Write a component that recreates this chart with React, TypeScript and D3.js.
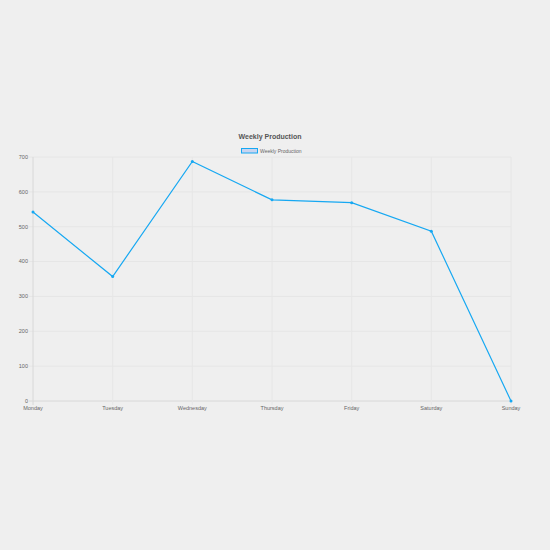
import React, { useEffect, useRef } from 'react'
import * as d3 from 'd3'

const days = ['Monday', 'Tuesday', 'Wednesday', 'Thursday', 'Friday', 'Saturday', 'Sunday']
const production = [542, 357, 687, 577, 569, 487, 0]
const yTicks = [0, 100, 200, 300, 400, 500, 600, 700]
const seriesName = 'Weekly Production'

const W = 550
const H = 550
const LINE = '#16a8f2'

const App = () => {
  const ref = useRef<SVGSVGElement>(null)

  useEffect(() => {
    const svg = d3.select(ref.current)
    svg.selectAll('*').remove()

    svg.append('rect').attr('width', W).attr('height', H).attr('fill', '#efefef')

    const x = d3.scalePoint<string>().domain(days).range([33, 511])
    const y = d3.scaleLinear().domain([0, 700]).range([401, 157])
    const font = 'Helvetica Neue, Helvetica, Arial, sans-serif'

    // grid
    const g = svg.append('g')
    g.selectAll('line.h')
      .data(yTicks)
      .join('line')
      .attr('x1', 29)
      .attr('x2', 511)
      .attr('y1', (d) => y(d))
      .attr('y2', (d) => y(d))
      .attr('stroke', (d) => (d === 0 ? '#d8d8d8' : '#e6e6e6'))
      .attr('stroke-width', 1)
    g.selectAll('line.v')
      .data(days)
      .join('line')
      .attr('x1', (d) => x(d)!)
      .attr('x2', (d) => x(d)!)
      .attr('y1', 157)
      .attr('y2', 405)
      .attr('stroke', (d, i) => (i === 0 ? '#d8d8d8' : '#e6e6e6'))
      .attr('stroke-width', 1)

    // y labels
    svg.append('g')
      .selectAll('text')
      .data(yTicks)
      .join('text')
      .attr('x', 28)
      .attr('y', (d) => y(d))
      .attr('dy', '0.35em')
      .attr('text-anchor', 'end')
      .attr('font-family', font)
      .attr('font-size', 5.5)
      .attr('fill', '#666')
      .text((d) => d)

    // x labels
    svg.append('g')
      .selectAll('text')
      .data(days)
      .join('text')
      .attr('x', (d) => x(d)!)
      .attr('y', 410)
      .attr('text-anchor', 'middle')
      .attr('font-family', font)
      .attr('font-size', 5.5)
      .attr('fill', '#666')
      .text((d) => d)

    // line
    const line = d3
      .line<number>()
      .x((d, i) => x(days[i])!)
      .y((d) => y(d))
    svg.append('path')
      .datum(production)
      .attr('d', line)
      .attr('fill', 'none')
      .attr('stroke', LINE)
      .attr('stroke-width', 1.2)

    svg.append('g')
      .selectAll('circle')
      .data(production)
      .join('circle')
      .attr('cx', (d, i) => x(days[i])!)
      .attr('cy', (d) => y(d))
      .attr('r', 1.5)
      .attr('fill', LINE)

    // title
    svg.append('text')
      .attr('x', 270)
      .attr('y', 139)
      .attr('text-anchor', 'middle')
      .attr('font-family', font)
      .attr('font-size', 7)
      .attr('font-weight', 'bold')
      .attr('fill', '#555')
      .text(seriesName)

    // legend
    svg.append('rect')
      .attr('x', 241.5)
      .attr('y', 148.5)
      .attr('width', 16)
      .attr('height', 4.5)
      .attr('fill', '#c8d4f0')
      .attr('stroke', LINE)
      .attr('stroke-width', 1)
    svg.append('text')
      .attr('x', 260)
      .attr('y', 150.8)
      .attr('dy', '0.35em')
      .attr('font-family', font)
      .attr('font-size', 5)
      .attr('fill', '#666')
      .text(seriesName)
  }, [])

  return (
    <svg
      ref={ref}
      width={W}
      height={H}
      style={{ position: 'absolute', left: 0, top: 0, display: 'block' }}
    />
  )
}

export default App
